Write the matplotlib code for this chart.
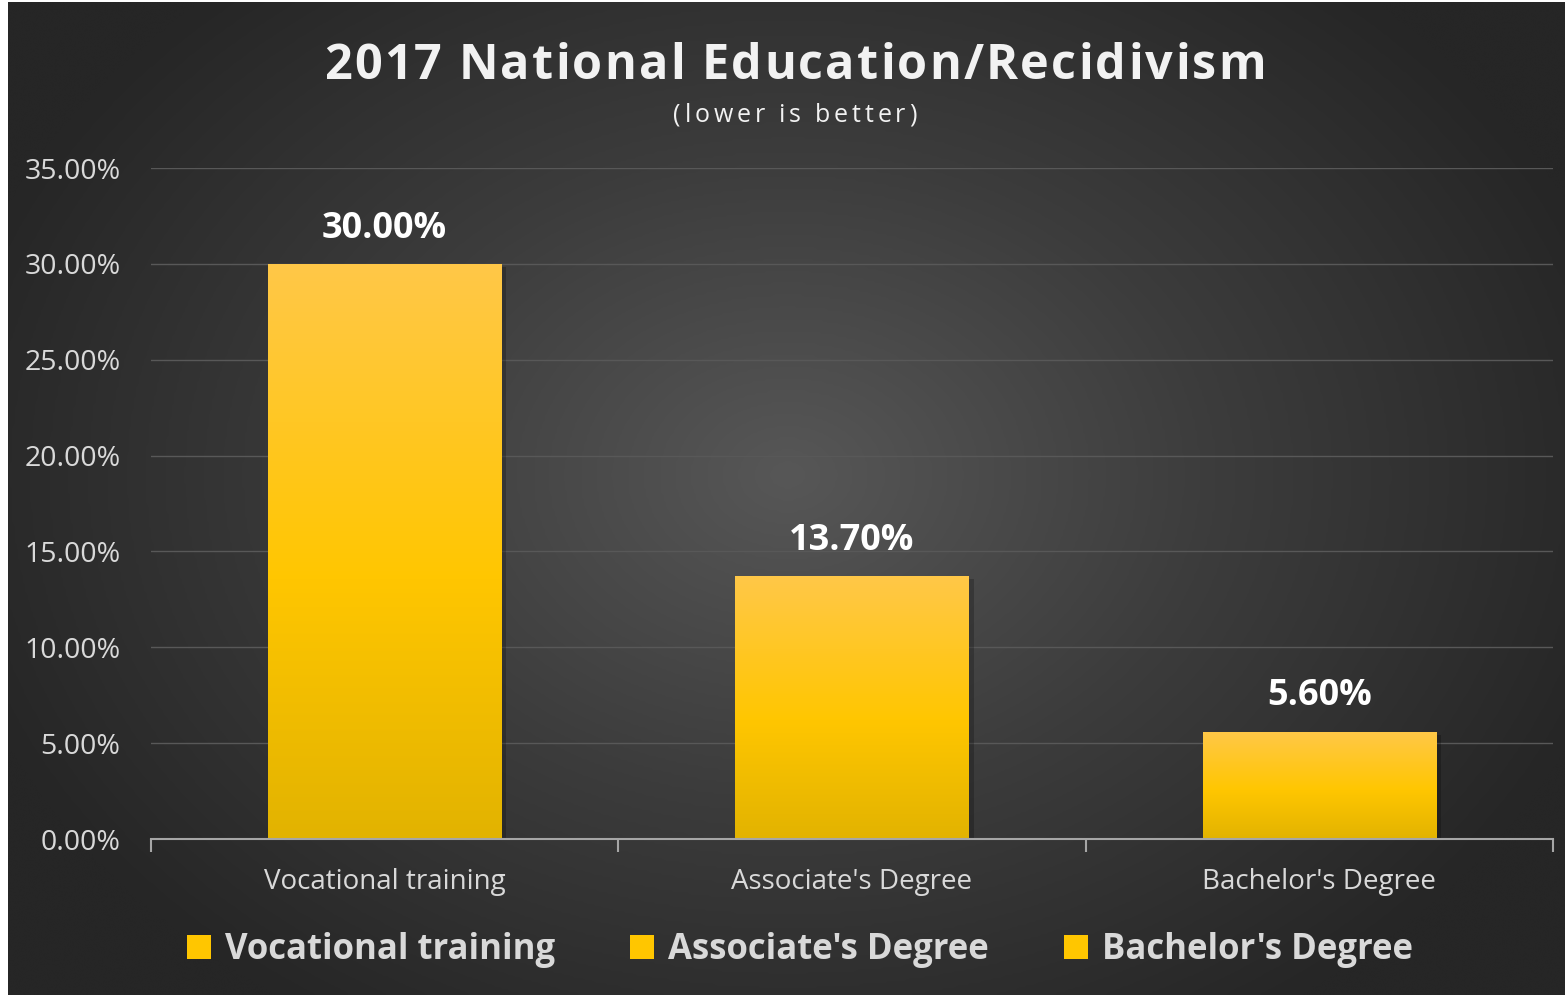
import numpy as np
import matplotlib
matplotlib.use("Agg")
import matplotlib.pyplot as plt
from matplotlib.colors import LinearSegmentedColormap
from matplotlib.patches import Patch
from matplotlib.ticker import FuncFormatter, FixedLocator

# data
categories = ["Vocational training", "Associate's Degree", "Bachelor's Degree"]
recidivism = [0.30, 0.137, 0.056]
title = "2017 National Education/Recidivism"
subtitle = "(lower is better)"

W, H = 1565, 997
plt.rcParams['font.family'] = ['Open Sans', 'DejaVu Sans']

fig = plt.figure(figsize=(W / 100, H / 100), dpi=100)
fig.patch.set_facecolor('white')

# background with radial gradient
bg = fig.add_axes([0, 0, 1, 1])
bg.set_xlim(0, W)
bg.set_ylim(H, 0)
bg.axis('off')
yy, xx = np.mgrid[0:400, 0:600]
r = np.sqrt(((xx - 300) / 330.0) ** 2 + ((yy - 190) / 260.0) ** 2)
r = np.clip(r, 0, 1)
bg_cmap = LinearSegmentedColormap.from_list('bg', ['#575757', '#3c3c3c', '#262626'])
bg.imshow(r, cmap=bg_cmap, extent=[8, W, 995, 3], aspect='auto', interpolation='bicubic')


def spaced_text(xc, yc, s, spacing, **kw):
    # draw text char by char with extra letter spacing (px), centred at xc (px)
    renderer = fig.canvas.get_renderer()
    widths = []
    for ch in s:
        t = bg.text(0, 0, ch.replace(' ', '\u00a0'), **kw)
        bb = t.get_window_extent(renderer)
        widths.append(bb.width if ch != ' ' else kw.get('fontsize', 10) * 0.36)
        t.remove()
    total = sum(widths) + spacing * (len(s) - 1)
    xpos = xc - total / 2
    for ch, w in zip(s, widths):
        if ch != ' ':
            bg.text(xpos, yc, ch, ha='left', va='baseline', **kw)
        xpos += w + spacing


# main axes
ax = fig.add_axes([151 / W, 1 - 839 / H, (1553 - 151) / W, (839 - 168) / H])
ax.patch.set_alpha(0)
x = np.arange(len(categories))
bars = ax.bar(x, recidivism, width=0.5, color='#FFC600', zorder=3)

bar_cmap = LinearSegmentedColormap.from_list('gold', [(0, '#E2B300'), (0.45, '#FFC600'), (1, '#FFC848')])
grad = np.linspace(0, 1, 256).reshape(-1, 1)
for b in bars:
    x0, y0, w, h = b.get_x(), b.get_y(), b.get_width(), b.get_height()
    # soft shadow
    ax.bar(x0 + w / 2 + 0.010, h, width=w, bottom=-0.0015, color='black', alpha=0.22, zorder=2)
    im = ax.imshow(grad, cmap=bar_cmap, extent=[x0, x0 + w, y0, y0 + h], origin='lower',
                   aspect='auto', zorder=4)
    im.set_clip_path(b)
    ax.text(x0 + w / 2, h + 0.009, f"{h:.2%}", ha='center', va='bottom', color='white',
            fontsize=26, fontweight='bold', zorder=5)

ax.set_xlim(-0.5, 2.5)
ax.set_ylim(0, 0.35)
ax.set_yticks(np.arange(0, 0.351, 0.05))
ax.yaxis.set_major_formatter(FuncFormatter(lambda v, p: f"{v:.2%}"))
ax.grid(axis='y', color='#585858', linewidth=1, zorder=0)
ax.set_axisbelow(True)
ax.tick_params(axis='y', length=0, pad=22, labelsize=20.5, labelcolor='#d9d9d9')
ax.set_xticks(x)
ax.set_xticklabels(categories)
ax.tick_params(axis='x', which='major', length=0, pad=21, labelsize=20, labelcolor='#d9d9d9')
ax.xaxis.set_minor_locator(FixedLocator([-0.5, 0.5, 1.5, 2.5]))
ax.tick_params(axis='x', which='minor', length=9, width=1.5, color='#a6a6a6', direction='out')
for s in ['top', 'right', 'left']:
    ax.spines[s].set_visible(False)
ax.spines['bottom'].set_color('#a6a6a6')
ax.spines['bottom'].set_linewidth(1.5)
ax.spines['bottom'].set_zorder(6)

# titles (letter spaced)
spaced_text(795, 79, title, 2.2, color='#f2f2f2', fontsize=35, fontweight='bold')
spaced_text(795, 122, subtitle, 3.8, color='#f2f2f2', fontsize=18)

# legend
handles = [Patch(facecolor='#FFC600', edgecolor='none', label=c) for c in categories]
fig.legend(handles=handles, loc='center', bbox_to_anchor=(800 / W, 1 - 950 / H), ncol=3,
           frameon=False, handlelength=0.7, handleheight=0.7, handletextpad=0.4,
           columnspacing=2.15, prop={'size': 25, 'weight': 'bold'}, labelcolor='#d9d9d9')

fig.savefig('out.png', dpi=100, facecolor=fig.get_facecolor())
